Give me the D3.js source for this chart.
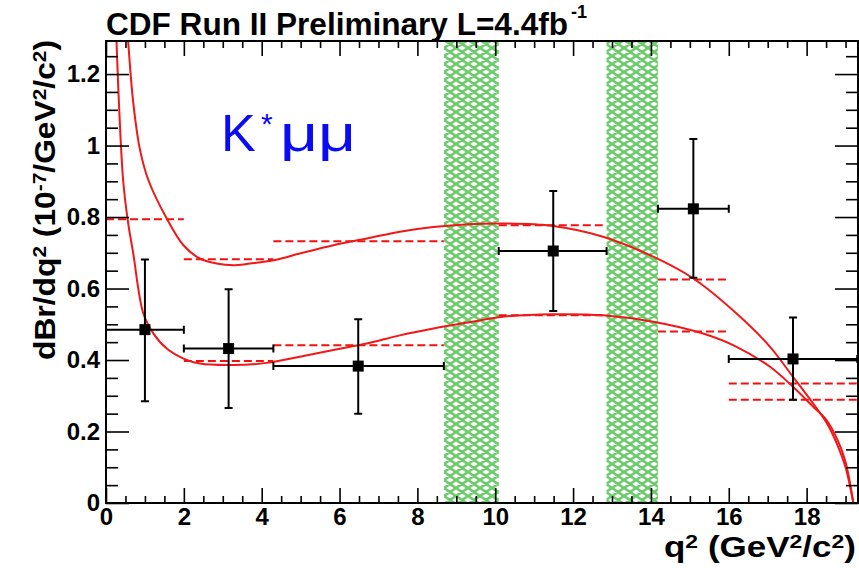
<!DOCTYPE html>
<html>
<head>
<meta charset="utf-8">
<script src="https://cdn.jsdelivr.net/npm/d3@7"></script>
<style>
body{margin:0;background:#fff;}
svg{display:block;}
text{font-family:"Liberation Sans",Arial,Helvetica,sans-serif;}
</style>
</head>
<body>
<svg id="plot" width="859" height="568"></svg>
<script>
// measured bins (q^2 in GeV^2/c^2)
var binLo   = [0, 2, 4.3, 10.09, 14.18, 16];
var binHi   = [2, 4.3, 8.68, 12.86, 16, 19.3];
var pointX  = [1.0, 3.15, 6.48, 11.49, 15.09, 17.65];
var pointY  = [0.485, 0.432, 0.383, 0.705, 0.823, 0.403];
var errUp   = [0.681, 0.598, 0.514, 0.873, 1.018, 0.519];
var errDown = [0.285, 0.266, 0.250, 0.537, 0.630, 0.289];

// bin averaged predictions (dashed)
var predHigh = [null, 0.682, 0.732, 0.777, 0.625, 0.334];
var predLow  = [0.794, 0.397, 0.441, 0.525, 0.480, 0.289];

// charmonium vetoes
var vetoLo = [8.68, 12.86];
var vetoHi = [10.09, 14.18];

// theory curves
var highQ = [0.5, 0.57, 0.70, 0.87, 1.09, 1.56, 1.99, 2.41, 2.84, 3.27, 3.70, 4.30, 4.98, 5.84, 6.70, 7.55, 8.41, 9.3, 10.2, 11.49, 12.77, 14.06, 15.09, 16.2, 17.06, 17.65, 18.17, 18.51, 18.8, 19.0, 19.2];
var highV = [1.40, 1.29, 1.12, 0.99, 0.903, 0.796, 0.721, 0.684, 0.670, 0.665, 0.670, 0.679, 0.698, 0.721, 0.740, 0.759, 0.772, 0.780, 0.782, 0.775, 0.745, 0.689, 0.628, 0.530, 0.437, 0.353, 0.278, 0.225, 0.16, 0.10, 0.0];
var lowQ  = [0.22, 0.27, 0.34, 0.44, 0.56, 0.70, 0.96, 1.22, 1.56, 1.99, 2.41, 3.27, 4.13, 4.98, 5.84, 6.70, 7.55, 8.41, 9.3, 10.2, 11.49, 12.77, 14.06, 15.34, 16.2, 17.06, 17.65, 18.17, 18.51, 18.8, 19.0, 19.2];
var lowV  = [1.42, 1.29, 1.10, 0.903, 0.79, 0.698, 0.530, 0.474, 0.432, 0.404, 0.390, 0.386, 0.392, 0.409, 0.428, 0.446, 0.469, 0.488, 0.505, 0.521, 0.528, 0.525, 0.507, 0.474, 0.437, 0.381, 0.325, 0.269, 0.232, 0.175, 0.115, 0.0];

var xTicks = [0, 2, 4, 6, 8, 10, 12, 14, 16, 18];
var yTicks = [0, 0.2, 0.4, 0.6, 0.8, 1, 1.2];

var frame = {l:106, r:858, t:41, b:503};

var svg = d3.select("#plot");

var x = d3.scaleLinear().domain([0, 19.32]).range([frame.l, frame.r]);
var y = d3.scaleLinear().domain([0, 1.2925]).range([frame.b, frame.t]);

var defs = svg.append("defs");
defs.append("clipPath").attr("id","clip")
    .append("rect")
    .attr("x",frame.l).attr("y",frame.t)
    .attr("width",frame.r-frame.l).attr("height",frame.b-frame.t);

var pat = defs.append("pattern")
    .attr("id","hatch")
    .attr("patternUnits","userSpaceOnUse")
    .attr("width",12).attr("height",8);
pat.append("rect").attr("width",12).attr("height",8).attr("fill","#fff");
pat.append("path")
    .attr("d","M-3,-2L15,10M-3,10L15,-2M-3,6L3,10M9,-2L15,2M-3,2L3,-2M9,10L15,6")
    .attr("stroke","#6ccc6c").attr("stroke-width",2.6).attr("fill","none");

var plot = svg.append("g").attr("clip-path","url(#clip)");

// veto bands
plot.selectAll(".veto").data(vetoLo).enter().append("rect")
    .attr("class","veto")
    .attr("x",function(d){return x(d);})
    .attr("y",frame.t)
    .attr("width",function(d,i){return x(vetoHi[i])-x(d);})
    .attr("height",frame.b-frame.t)
    .attr("fill","url(#hatch)");

// dashed predictions
function drawPred(vals){
    var idx = d3.range(vals.length).filter(function(i){return vals[i]!==null;});
    plot.selectAll(null).data(idx).enter()
        .append("line")
        .attr("x1",function(i){return x(binLo[i]);})
        .attr("x2",function(i){return x(binHi[i]);})
        .attr("y1",function(i){return y(vals[i]);})
        .attr("y2",function(i){return y(vals[i]);})
        .attr("stroke","#f01010").attr("stroke-width",2)
        .attr("stroke-dasharray","8,4");
}
drawPred(predHigh);
drawPred(predLow);

// curves
var line = d3.line()
    .x(function(d){return x(d[0]);})
    .y(function(d){return y(d[1]);})
    .curve(d3.curveCatmullRom);

plot.append("path")
    .datum(d3.zip(highQ, highV))
    .attr("d",line)
    .attr("fill","none").attr("stroke","#f01818").attr("stroke-width",2);
plot.append("path")
    .datum(d3.zip(lowQ, lowV))
    .attr("d",line)
    .attr("fill","none").attr("stroke","#f01818").attr("stroke-width",2);

// data points
var pts = plot.selectAll(".pt").data(pointX).enter().append("g").attr("class","pt");
pts.append("line")
    .attr("x1",function(d,i){return x(binLo[i]);})
    .attr("x2",function(d,i){return x(binHi[i]);})
    .attr("y1",function(d,i){return y(pointY[i]);})
    .attr("y2",function(d,i){return y(pointY[i]);});
pts.append("line")
    .attr("x1",function(d){return x(d);})
    .attr("x2",function(d){return x(d);})
    .attr("y1",function(d,i){return y(errUp[i]);})
    .attr("y2",function(d,i){return y(errDown[i]);});
// caps
pts.append("path")
    .attr("d",function(d,i){
        var cx = x(d), cy = y(pointY[i]);
        var xl = x(binLo[i]), xr = x(binHi[i]);
        var yt = y(errUp[i]), yb = y(errDown[i]);
        return "M"+xl+","+(cy-4)+"V"+(cy+4)+
               "M"+xr+","+(cy-4)+"V"+(cy+4)+
               "M"+(cx-4)+","+yt+"H"+(cx+4)+
               "M"+(cx-4)+","+yb+"H"+(cx+4);
    });
pts.selectAll("line,path").attr("stroke","#000").attr("stroke-width",2).attr("fill","none");
pts.append("rect")
    .attr("x",function(d){return x(d)-5.5;})
    .attr("y",function(d,i){return y(pointY[i])-5.5;})
    .attr("width",11).attr("height",11)
    .attr("fill","#000");

// axes (ticks inside the frame)
function styleAxis(g){
    g.select(".domain").remove();
    g.selectAll(".tick line").attr("stroke","#000").attr("stroke-width",1.6);
    g.selectAll("text")
        .attr("fill","#000")
        .style("font-family","'Liberation Sans',Arial,sans-serif")
        .style("font-weight","bold")
        .style("font-size","24px");
}
var minorX = d3.range(0, 19.3, 0.5).filter(function(d){return d%2!==0;});
var minorY = d3.range(0, 1.29, 0.05).filter(function(d){return Math.abs(d*5-Math.round(d*5))>0.01;});

svg.append("g").attr("transform","translate(0,"+frame.b+")")
    .call(d3.axisBottom(x).tickValues(xTicks).tickSizeInner(-15).tickSizeOuter(0).tickPadding(5).tickFormat(d3.format("d")))
    .call(styleAxis);
svg.append("g").attr("transform","translate(0,"+frame.b+")")
    .call(d3.axisBottom(x).tickValues(minorX).tickSizeInner(-7).tickSizeOuter(0).tickFormat(""))
    .call(styleAxis);
svg.append("g").attr("transform","translate(0,"+frame.t+")")
    .call(d3.axisBottom(x).tickValues(xTicks).tickSizeInner(15).tickSizeOuter(0).tickFormat(""))
    .call(styleAxis);
svg.append("g").attr("transform","translate(0,"+frame.t+")")
    .call(d3.axisBottom(x).tickValues(minorX).tickSizeInner(7).tickSizeOuter(0).tickFormat(""))
    .call(styleAxis);

svg.append("g").attr("transform","translate("+frame.l+",0)")
    .call(d3.axisLeft(y).tickValues(yTicks).tickSizeInner(-23).tickSizeOuter(0).tickPadding(6).tickFormat(d3.format("~g")))
    .call(styleAxis);
svg.append("g").attr("transform","translate("+frame.l+",0)")
    .call(d3.axisLeft(y).tickValues(minorY).tickSizeInner(-12).tickSizeOuter(0).tickFormat(""))
    .call(styleAxis);
svg.append("g").attr("transform","translate("+frame.r+",0)")
    .call(d3.axisLeft(y).tickValues(yTicks).tickSizeInner(23).tickSizeOuter(0).tickFormat(""))
    .call(styleAxis);
svg.append("g").attr("transform","translate("+frame.r+",0)")
    .call(d3.axisLeft(y).tickValues(minorY).tickSizeInner(12).tickSizeOuter(0).tickFormat(""))
    .call(styleAxis);
// empty tick label nodes are not needed
svg.selectAll(".tick text").filter(function(){return this.textContent==="";}).remove();

svg.append("rect")
    .attr("x",frame.l).attr("y",frame.t)
    .attr("width",frame.r-frame.l).attr("height",frame.b-frame.t)
    .attr("fill","none").attr("stroke","#000").attr("stroke-width",2);

// titles
svg.append("text")
    .attr("x",106).attr("y",35)
    .attr("textLength",462).attr("lengthAdjust","spacingAndGlyphs")
    .style("font-weight","bold").style("font-size","31px")
    .text("CDF Run II Preliminary L=4.4fb");
svg.append("text")
    .attr("x",571).attr("y",18)
    .style("font-weight","bold").style("font-size","18px")
    .text("-1");

// superscripts: shift the sup up, shift the following part back down
function addParts(t, parts, size){
    var shift = Math.round(size*0.32);
    var up = false;
    parts.forEach(function(p){
        var s = t.append("tspan").text(p.s);
        if (p.sup) {
            s.attr("dy",-shift).style("font-size",Math.round(size*0.66)+"px");
            up = true;
        } else if (up) {
            s.attr("dy",shift);
            up = false;
        }
    });
}

var yt = svg.append("text")
    .attr("transform","translate(55,40) rotate(-90)")
    .attr("text-anchor","end")
    .attr("textLength",320).attr("lengthAdjust","spacingAndGlyphs")
    .style("font-weight","bold").style("font-size","29px");
addParts(yt, [{s:"dBr/dq"},{s:"2",sup:1},{s:" (10"},{s:"-7",sup:1},{s:"/GeV"},{s:"2",sup:1},{s:"/c"},{s:"2",sup:1},{s:")"}], 29);

var xt = svg.append("text")
    .attr("x",856).attr("y",557)
    .attr("text-anchor","end")
    .attr("textLength",192).attr("lengthAdjust","spacingAndGlyphs")
    .style("font-weight","bold").style("font-size","29px");
addParts(xt, [{s:"q"},{s:"2",sup:1},{s:" (GeV"},{s:"2",sup:1},{s:"/c"},{s:"2",sup:1},{s:")"}], 29);

// channel label
var lab = svg.append("g").attr("fill","#0a0af5");
lab.append("text").attr("x",221).attr("y",151).style("font-size","52px").text("K");
lab.append("text").attr("x",261).attr("y",134).style("font-size","30px").text("*");
lab.append("text").attr("x",280).attr("y",151)
    .attr("textLength",76).attr("lengthAdjust","spacingAndGlyphs")
    .style("font-size","52px").text("\u03bc\u03bc");
</script>
</body>
</html>
